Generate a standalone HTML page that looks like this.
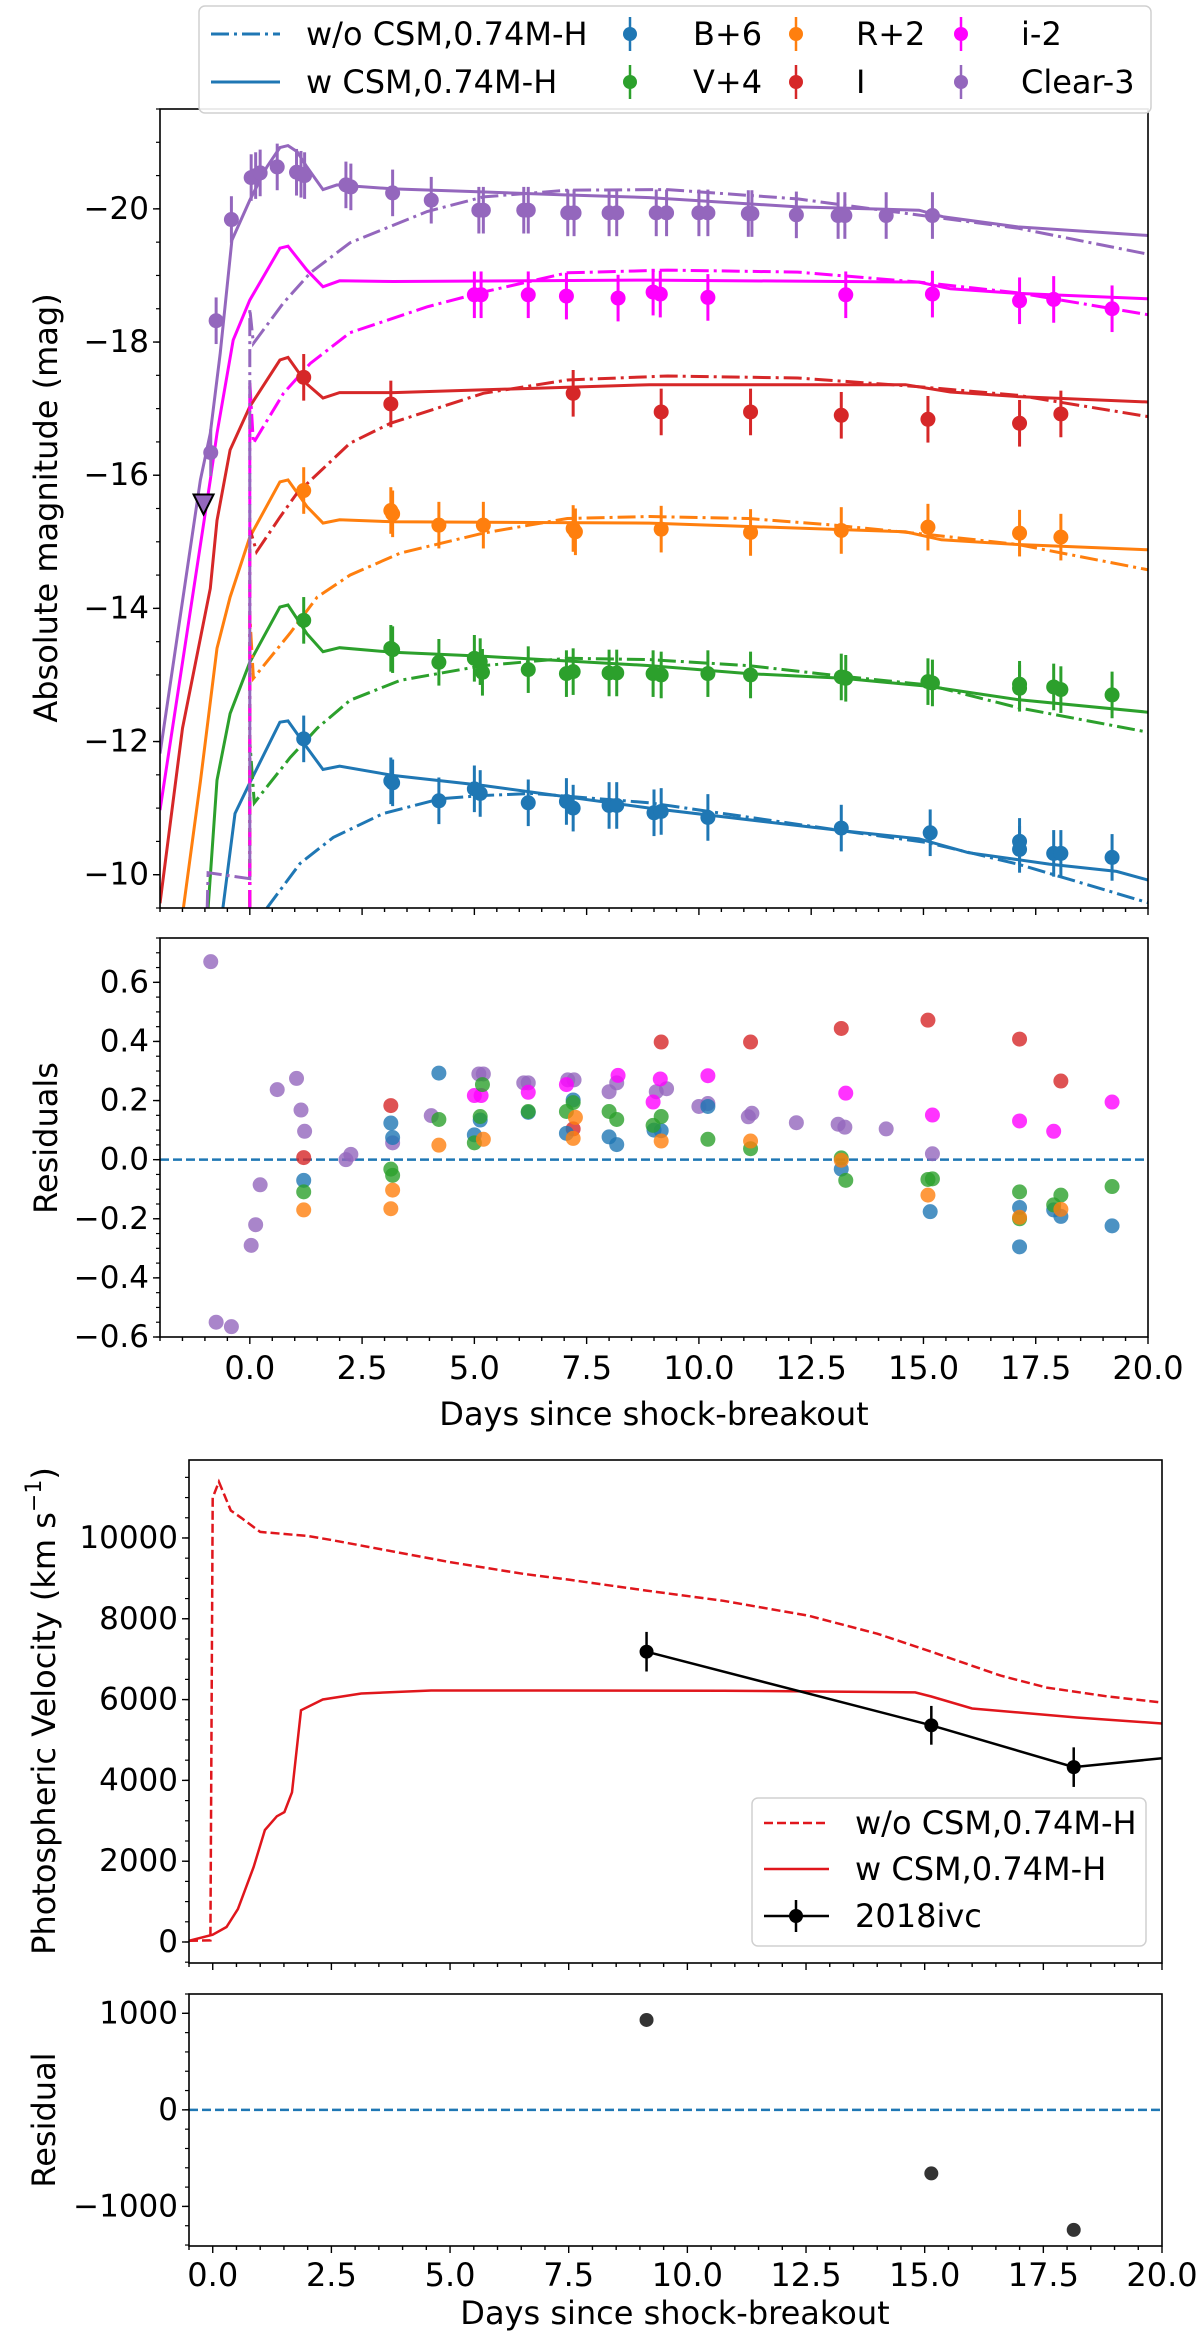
<!DOCTYPE html>
<html><head><meta charset="utf-8"><title>SN 2018ivc model comparison</title>
<style>
html,body{margin:0;padding:0;background:#fff;}
svg text{font-family:"DejaVu Sans","Liberation Sans",sans-serif;fill:#000;}
</style></head>
<body>
<svg id="fig" xmlns="http://www.w3.org/2000/svg" width="1200" height="2333" viewBox="0 0 1200 2333">
<defs>
<clipPath id="clipLC"><rect x="160" y="109" width="988" height="799"/></clipPath>
<clipPath id="clipRes"><rect x="160" y="938" width="988" height="399"/></clipPath>
<clipPath id="clipVel"><rect x="189" y="1460" width="973" height="503"/></clipPath>
<clipPath id="clipVRes"><rect x="189" y="1994" width="973" height="252"/></clipPath>
</defs>
<rect x="0" y="0" width="1200" height="2333" fill="#fff"/>
<g id="lc"></g>
<g id="res"></g>
<g id="vel"></g>
<g id="vres"></g>
</svg>
<script>
// ---------- Light-curve data ----------
const bDays=[1.2,3.14,3.18,4.21,5.0,5.13,6.2,7.05,7.2,8.0,8.17,9.0,9.16,10.2,13.17,15.15,17.14,17.14,17.9,18.06,19.2];
const bMags=[-12.04,-11.41,-11.38,-11.11,-11.29,-11.22,-11.08,-11.1,-11.0,-11.04,-11.04,-10.93,-10.95,-10.86,-10.7,-10.63,-10.5,-10.38,-10.32,-10.32,-10.26];
const bRes=[-0.07,0.124,0.075,0.293,0.084,0.134,0.16,0.089,0.202,0.077,0.051,0.1,0.098,0.18,-0.032,-0.176,-0.162,-0.295,-0.17,-0.192,-0.224];
const vDays=[1.2,3.14,3.18,4.21,5.0,5.13,5.18,6.2,7.05,7.2,8.0,8.17,8.98,9.16,10.2,11.15,13.17,13.27,15.1,15.2,17.14,17.14,17.9,18.06,19.2];
const vMags=[-13.82,-13.4,-13.38,-13.19,-13.25,-13.2,-13.04,-13.08,-13.02,-13.05,-13.03,-13.03,-13.02,-13.0,-13.02,-13.0,-12.97,-12.95,-12.9,-12.88,-12.86,-12.8,-12.82,-12.78,-12.7];
const vRes=[-0.109,-0.032,-0.053,0.136,0.057,0.146,0.254,0.163,0.163,0.193,0.163,0.136,0.116,0.146,0.069,0.037,0.006,-0.07,-0.067,-0.065,-0.109,-0.2,-0.153,-0.12,-0.091];
const rDays=[1.2,3.14,3.18,4.21,5.2,7.2,7.25,9.16,11.15,13.17,15.1,17.14,18.06];
const rMags=[-15.77,-15.47,-15.42,-15.25,-15.25,-15.2,-15.15,-15.19,-15.14,-15.17,-15.22,-15.13,-15.07];
const rRes=[-0.17,-0.166,-0.103,0.049,0.069,0.072,0.143,0.063,0.063,-0.002,-0.12,-0.195,-0.168];
const iDays=[1.2,3.14,7.2,9.16,11.15,13.17,15.1,17.14,18.06];
const iMags=[-17.47,-17.07,-17.23,-16.95,-16.95,-16.9,-16.84,-16.78,-16.92];
const iRes=[0.007,0.183,0.104,0.398,0.398,0.444,0.472,0.408,0.266];
const sDays=[5.0,5.15,6.2,7.05,8.2,8.98,9.14,10.2,13.27,15.2,17.14,17.9,19.2];
const sMags=[-18.71,-18.71,-18.71,-18.69,-18.66,-18.75,-18.72,-18.67,-18.71,-18.72,-18.62,-18.64,-18.5];
const sRes=[0.217,0.217,0.228,0.254,0.285,0.195,0.273,0.284,0.225,0.151,0.131,0.096,0.195];
const cDays=[-0.87,-0.75,-0.41,0.03,0.13,0.23,0.61,1.04,1.14,1.22,2.14,2.25,3.18,4.04,5.1,5.2,6.1,6.2,7.08,7.22,8.0,8.17,9.05,9.28,10.0,10.2,11.1,11.18,12.17,13.1,13.25,14.17,15.2];
const cMags=[-16.34,-18.32,-19.84,-20.47,-20.5,-20.54,-20.63,-20.55,-20.52,-20.5,-20.36,-20.33,-20.24,-20.13,-19.98,-19.98,-19.98,-19.98,-19.94,-19.94,-19.94,-19.94,-19.94,-19.94,-19.94,-19.94,-19.93,-19.93,-19.91,-19.9,-19.9,-19.9,-19.9];
const cRes=[0.67,-0.55,-0.565,-0.29,-0.22,-0.085,0.237,0.275,0.168,0.096,0.0,0.018,0.057,0.149,0.29,0.29,0.26,0.26,0.27,0.27,0.23,0.26,0.23,0.24,0.18,0.19,0.145,0.157,0.125,0.12,0.11,0.104,0.02];
const upperDays=[-1.03];
const upperMags=[-15.56];
// ---------- Model curves (w CSM = solid, w/o CSM = dash-dot) ----------
const bCsmT=[-0.6,-0.33,0,0.67,0.85,1.27,1.63,2.0,3.2,5.2,8.9,13.2,14.9,16.0,17.8,19.3,20];
const bCsmM=[-9.5,-10.92,-11.38,-12.29,-12.31,-11.91,-11.58,-11.63,-11.49,-11.34,-11.0,-10.66,-10.54,-10.33,-10.16,-10.05,-9.92];
const bNoT=[0.38,1.12,1.86,2.97,4.24,5.2,6.3,8.9,13.2,15.1,17.1,18.6,20];
const bNoM=[-9.5,-10.17,-10.56,-10.92,-11.14,-11.19,-11.22,-11.08,-10.66,-10.48,-10.16,-9.86,-9.58];
const vCsmT=[-0.93,-0.73,-0.44,0,0.67,0.85,1.27,1.63,2.0,3.2,5.2,8.9,11.1,13.2,15.1,17.1,20];
const vCsmM=[-9.5,-11.42,-12.42,-13.19,-14.02,-14.05,-13.62,-13.35,-13.41,-13.34,-13.28,-13.14,-13.02,-12.95,-12.83,-12.63,-12.44];
const vNoT=[0,0,0.1,0.9,1.5,2.23,3.35,5.2,7.07,8.9,11.1,13.2,15.1,17.1,20];
const vNoM=[-9.5,-12.0,-11.08,-11.76,-12.2,-12.62,-12.92,-13.14,-13.25,-13.23,-13.14,-12.98,-12.85,-12.51,-12.14];
const rCsmT=[-1.48,-1.1,-0.73,-0.44,0,0.67,0.85,1.27,1.63,2.0,3.2,8.9,14.6,15.4,17.1,20];
const rCsmM=[-9.5,-11.4,-13.4,-14.17,-15.07,-15.9,-15.93,-15.53,-15.28,-15.33,-15.3,-15.28,-15.15,-15.03,-14.96,-14.88];
const rNoT=[0,0,0.08,0.9,1.5,2.23,3.35,5.2,7.07,8.9,11.1,13.0,15.1,17.1,20];
const rNoM=[-9.5,-13.9,-12.95,-13.63,-14.17,-14.5,-14.83,-15.13,-15.35,-15.38,-15.35,-15.25,-15.11,-14.96,-14.58];
const iCsmT=[-2,-1.5,-0.88,-0.73,-0.44,0,0.67,0.85,1.27,1.63,2.0,3.2,8.9,14.6,15.6,17.1,20];
const iCsmM=[-9.57,-12.2,-14.3,-15.32,-16.38,-17.03,-17.73,-17.77,-17.37,-17.16,-17.24,-17.24,-17.36,-17.36,-17.25,-17.18,-17.1];
const iNoT=[0,0,0.15,0.67,1.05,2.23,3.13,5.2,7.07,9.3,12.2,14.9,17.1,20];
const iNoM=[-9.5,-15.2,-14.85,-15.37,-15.73,-16.48,-16.78,-17.23,-17.43,-17.49,-17.46,-17.33,-17.2,-16.88];
const sCsmT=[-2,-0.88,-0.73,-0.37,0,0.67,0.85,1.27,1.63,2.0,3.2,8.9,14.9,15.6,17.1,20];
const sCsmM=[-10.97,-15.93,-16.63,-18.03,-18.63,-19.41,-19.44,-19.08,-18.83,-18.92,-18.91,-18.93,-18.9,-18.8,-18.73,-18.65];
const sNoT=[0,0,0.08,0.75,1.35,2.23,3.95,5.2,7.07,9.3,12.2,14.9,17.1,20];
const sNoM=[-9.5,-17.4,-16.48,-17.23,-17.68,-18.14,-18.53,-18.75,-19.04,-19.08,-19.05,-18.9,-18.74,-18.41];
const cCsmT=[-2,-1.1,-0.88,-0.66,-0.4,0,0.38,0.67,0.85,1.05,1.27,1.63,1.94,3.2,5.0,7.0,8.9,12.2,14.9,15.45,17.1,20];
const cCsmM=[-11.82,-15.93,-16.63,-17.83,-19.53,-20.13,-20.63,-20.92,-20.95,-20.86,-20.63,-20.29,-20.36,-20.3,-20.26,-20.21,-20.17,-20.03,-19.98,-19.88,-19.73,-19.6];
const cNoT=[-0.95,-0.93,0,0,0.08,0.75,1.35,2.23,3.95,5.2,7.07,9.3,12.2,15.2,17.1,20];
const cNoM=[-9.5,-10.03,-9.94,-18.5,-17.98,-18.59,-19.04,-19.49,-19.96,-20.18,-20.28,-20.29,-20.15,-19.88,-19.71,-19.32];
// ---------- Velocity data ----------
const velNoT=[-0.5,-0.05,0,0.13,0.38,0.6,1.0,2.0,2.5,3.62,4.97,6.54,7.52,9.14,10.76,12.55,14.0,15.14,16.6,17.57,18.86,20];
const velNoV=[30,40,11000,11390,10680,10500,10150,10050,9950,9705,9408,9113,8965,8697,8445,8075,7630,7185,6594,6297,6076,5928];
const velCsmT=[-0.5,0,0.29,0.53,0.86,1.1,1.35,1.51,1.67,1.86,2.32,3.13,4.6,6.87,10.76,14.8,15.14,16.0,18.2,20];
const velCsmV=[30,180,370,815,1853,2772,3111,3216,3706,5735,6002,6150,6225,6225,6220,6178,6076,5780,5556,5408];
const obsDays=[9.14,15.14,18.14,21.0];
const obsVel=[7185,5363,4328,4666];
const obsErr=[490,480,490,480];
const velResDays=[9.14,15.14,18.14];
const velRes=[931,-658,-1243];
const lcTicks=[-20,-18,-16,-14,-12,-10];
const resTicks=[0.6,0.4,0.2,0.0,-0.2,-0.4,-0.6];
const velTicks=[0,2000,4000,6000,8000,10000];
const vresTicks=[1000,0,-1000];
const dayTicks=[0,2.5,5,7.5,10,12.5,15,17.5,20];

// ---------- axis functions ----------
const NS='http://www.w3.org/2000/svg';
const FS=32;
const lcX=d=>160+(d+2)*(988/22);
const lcY=m=>109+(m+21.5)*(799/12);
const resY=r=>938+(0.75-r)*(399/1.35);
const velX=d=>189+(d+0.5)*(973/20.5);
const velY=v=>1460+(11930-v)*(503/12450);
const vresY=v=>1994+(1200-v)*(252/2610);
function mk(tag,attrs,parent){const e=document.createElementNS(NS,tag);for(const k in attrs)e.setAttribute(k,attrs[k]);if(parent)parent.appendChild(e);return e;}
const fmt=v=>(v<0?'\u2212':'')+Math.abs(v);
const fmt1=v=>(v<0?'\u2212':'')+Math.abs(v).toFixed(1);

const C={b:'#1f77b4',v:'#2ca02c',r:'#ff7f0e',i:'#d62728',s:'#ff00ff',c:'#9467bd'};
const RED='#e0161c';

function pathD(xs,ys,fx,fy){return xs.map((t,k)=>(k?'L':'M')+fx(t).toFixed(1)+' '+fy(ys[k]).toFixed(1)).join(' ');}

function frame(g,x0,y0,w,h){
  const r=mk('rect',{x:x0,y:y0,width:w,height:h,fill:'none',stroke:'#000','stroke-width':1.6},g);
  
  
}
function xTicks(g,fx,yb,labels,labelY,lo){
  for(let d=lo;d<=20.001;d+=0.5){
    const major=Math.abs(d/2.5-Math.round(d/2.5))<1e-6;
    const t=mk('line',{x1:fx(d),x2:fx(d),y1:yb,y2:yb+(major?7:4),stroke:'#000','stroke-width':1.4},g);
    
    
  }
  if(labels){dayTicks.forEach(d=>{
    const tx=mk('text',{x:fx(d),y:labelY,'text-anchor':'middle','dominant-baseline':'central','font-size':FS},g);
    tx.textContent=d.toFixed(1);
    
    
  });}
}
function yTicks(g,fy,xl,lo,hi,minorStep,ticks,f){
  for(let v=lo;v<=hi+1e-9;v+=minorStep){
    const t=mk('line',{x1:xl-4,x2:xl,y1:fy(v),y2:fy(v),stroke:'#000','stroke-width':1.2},g);
    
    
  }
  ticks.forEach(v=>{
    const t=mk('line',{x1:xl-7,x2:xl,y1:fy(v),y2:fy(v),stroke:'#000','stroke-width':1.4},g);
    
    
    const tx=mk('text',{x:xl-11,y:fy(v),'text-anchor':'end','dominant-baseline':'central','font-size':FS-1},g);
    tx.textContent=f(v);
    
    
  });
}
function ylabel(g,x,y,txt,name){
  const t=mk('text',{x:x,y:y,'text-anchor':'middle','dominant-baseline':'central','font-size':FS,transform:`rotate(-90 ${x} ${y})`},g);
  t.innerHTML=txt;
  
  
}

// ================= Light curve panel =================
const lc=document.getElementById('lc');
const lcPlot=mk('g',{'clip-path':'url(#clipLC)'},lc);


const models=[['b',bCsmT,bCsmM,bNoT,bNoM],['v',vCsmT,vCsmM,vNoT,vNoM],['r',rCsmT,rCsmM,rNoT,rNoM],['i',iCsmT,iCsmM,iNoT,iNoM],['s',sCsmT,sCsmM,sNoT,sNoM],['c',cCsmT,cCsmM,cNoT,cNoM]];
models.forEach(([k,t1,m1,t2,m2])=>{
  const p2=mk('path',{d:pathD(t2,m2,lcX,lcY),fill:'none',stroke:C[k],'stroke-width':3,'stroke-dasharray':'18 5 3 5'},lcPlot);
  
  
  const p1=mk('path',{d:pathD(t1,m1,lcX,lcY),fill:'none',stroke:C[k],'stroke-width':3},lcPlot);
  
  
});
const obs=[['b',bDays,bMags],['v',vDays,vMags],['r',rDays,rMags],['i',iDays,iMags],['s',sDays,sMags],['c',cDays,cMags]];
obs.forEach(([k,ds,ms])=>{
  ds.forEach((d,j)=>{
    const x=lcX(d),y=lcY(ms[j]);
    const e=mk('line',{x1:x,x2:x,y1:lcY(ms[j]-0.35),y2:lcY(ms[j]+0.35),stroke:C[k],'stroke-width':3},lcPlot);
    
    
    const c=mk('circle',{cx:x,cy:y,r:7.5,fill:C[k]},lcPlot);
    
    
  });
});
upperDays.forEach((d,j)=>{
  const x=lcX(d),y=lcY(upperMags[j]);
  const tri=mk('polygon',{points:`${x-10},${y-10} ${x+10},${y-10} ${x},${y+10}`,fill:C.c,stroke:'#000','stroke-width':2},lcPlot);
  
  
});
frame(lc,160,109,988,799);
xTicks(lc,lcX,908,false,0,-2);
yTicks(lc,lcY,160,-21.5,-9.5,0.5,lcTicks,fmt);
ylabel(lc,46,508,'Absolute magnitude (mag)','y-axis-title-magnitude');

// legend
const lg=mk('g',{},lc);


const lgBox=mk('rect',{x:199,y:6,width:952,height:107,rx:6,fill:'#fff','fill-opacity':0.9,stroke:'#d0d0d0','stroke-width':1.5},lg);


const ll1=mk('line',{x1:211,x2:280,y1:34,y2:34,stroke:C.b,'stroke-width':3,'stroke-dasharray':'18 5 3 5'},lg);


const lt1=mk('text',{x:306,y:34,'dominant-baseline':'central','font-size':FS},lg);
lt1.textContent='w/o CSM,0.74M-H';


const ll2=mk('line',{x1:211,x2:280,y1:82,y2:82,stroke:C.b,'stroke-width':3},lg);


const lt2=mk('text',{x:306,y:82,'dominant-baseline':'central','font-size':FS},lg);
lt2.textContent='w CSM,0.74M-H';


const legendBands=[['b','B+6',630,693,34],['v','V+4',630,693,82],['r','R+2',796,856,34],['i','I',796,856,82],['s','i-2',961,1021,34],['c','Clear-3',961,1021,82]];
legendBands.forEach(([k,lab,mx,tx,y])=>{
  const e=mk('line',{x1:mx,x2:mx,y1:y-17,y2:y+17,stroke:C[k],'stroke-width':2.5},lg);
  
  
  const c=mk('circle',{cx:mx,cy:y,r:7,fill:C[k]},lg);
  
  
  const t=mk('text',{x:tx,y:y,'dominant-baseline':'central','font-size':FS},lg);
  t.textContent=lab;
  
  
});

// ================= Residual panel =================
const res=document.getElementById('res');
const resPlot=mk('g',{'clip-path':'url(#clipRes)'},res);


const zl=mk('line',{x1:160,x2:1148,y1:resY(0),y2:resY(0),stroke:'#1f77b4','stroke-width':2.5,'stroke-dasharray':'9 4'},resPlot);


const resSets=[['c',cDays,cRes],['s',sDays,sRes],['i',iDays,iRes],['b',bDays,bRes],['v',vDays,vRes],['r',rDays,rRes]];
resSets.forEach(([k,ds,rs])=>{
  ds.forEach((d,j)=>{
    const c=mk('circle',{cx:lcX(d),cy:resY(rs[j]),r:7.5,fill:C[k],'fill-opacity':0.8},resPlot);
    
    
  });
});
frame(res,160,938,988,399);
xTicks(res,lcX,1337,true,1368,-2);
yTicks(res,resY,160,-0.6,0.75,0.05,resTicks,fmt1);
ylabel(res,46,1138,'Residuals','y-axis-title-residuals');
const xl1=mk('text',{x:654,y:1414,'text-anchor':'middle','dominant-baseline':'central','font-size':FS},res);
xl1.textContent='Days since shock-breakout';



// ================= Velocity panel =================
const vel=document.getElementById('vel');
const velPlot=mk('g',{'clip-path':'url(#clipVel)'},vel);


const vp1=mk('path',{d:pathD(velNoT,velNoV,velX,velY),fill:'none',stroke:RED,'stroke-width':2.5,'stroke-dasharray':'9 4'},velPlot);


const vp2=mk('path',{d:pathD(velCsmT,velCsmV,velX,velY),fill:'none',stroke:RED,'stroke-width':2.5},velPlot);


const vp3=mk('path',{d:pathD(obsDays,obsVel,velX,velY),fill:'none',stroke:'#000','stroke-width':2.5},velPlot);


obsDays.forEach((d,j)=>{
  const e=mk('line',{x1:velX(d),x2:velX(d),y1:velY(obsVel[j]+obsErr[j]),y2:velY(obsVel[j]-obsErr[j]),stroke:'#000','stroke-width':2.5},velPlot);
  
  
  const c=mk('circle',{cx:velX(d),cy:velY(obsVel[j]),r:7,fill:'#000'},velPlot);
  
  
});
frame(vel,189,1460,973,503);
xTicks(vel,velX,1963,false,0,-0.5);
yTicks(vel,velY,189,-500,11500,500,velTicks,fmt);
ylabel(vel,44,1711,'Photospheric Velocity (km s<tspan dy="-10" font-size="22">\u22121</tspan><tspan dy="10">)</tspan>','y-axis-title-velocity');
const vlg=mk('g',{},vel);


const vbox=mk('rect',{x:752,y:1798,width:394,height:148,rx:6,fill:'#fff','fill-opacity':0.9,stroke:'#d0d0d0','stroke-width':1.5},vlg);


const vl1=mk('line',{x1:764,x2:829,y1:1823,y2:1823,stroke:RED,'stroke-width':2.5,'stroke-dasharray':'9 4'},vlg);


const vt1=mk('text',{x:855,y:1823,'dominant-baseline':'central','font-size':FS},vlg);
vt1.textContent='w/o CSM,0.74M-H';


const vl2=mk('line',{x1:764,x2:829,y1:1869,y2:1869,stroke:RED,'stroke-width':2.5},vlg);


const vt2=mk('text',{x:855,y:1869,'dominant-baseline':'central','font-size':FS},vlg);
vt2.textContent='w CSM,0.74M-H';


const vl3=mk('line',{x1:764,x2:829,y1:1916,y2:1916,stroke:'#000','stroke-width':2.5},vlg);


const vl3e=mk('line',{x1:796,x2:796,y1:1900,y2:1932,stroke:'#000','stroke-width':2.5},vlg);


const vl3c=mk('circle',{cx:796,cy:1916,r:7,fill:'#000'},vlg);


const vt3=mk('text',{x:855,y:1916,'dominant-baseline':'central','font-size':FS},vlg);
vt3.textContent='2018ivc';



// ================= Velocity residual panel =================
const vres=document.getElementById('vres');
const vresPlot=mk('g',{'clip-path':'url(#clipVRes)'},vres);


const vz=mk('line',{x1:189,x2:1162,y1:vresY(0),y2:vresY(0),stroke:'#1f77b4','stroke-width':2.5,'stroke-dasharray':'9 4'},vresPlot);


velResDays.forEach((d,j)=>{
  const c=mk('circle',{cx:velX(d),cy:vresY(velRes[j]),r:7,fill:'#000','fill-opacity':0.8},vresPlot);
  
  
});
frame(vres,189,1994,973,252);
xTicks(vres,velX,2246,true,2275,-0.5);
yTicks(vres,vresY,189,-1400,1200,200,vresTicks,fmt);
ylabel(vres,44,2120,'Residual','y-axis-title-velocity-residual');
const xl2=mk('text',{x:675,y:2313,'text-anchor':'middle','dominant-baseline':'central','font-size':FS},vres);
xl2.textContent='Days since shock-breakout';


</script>
</body></html>
